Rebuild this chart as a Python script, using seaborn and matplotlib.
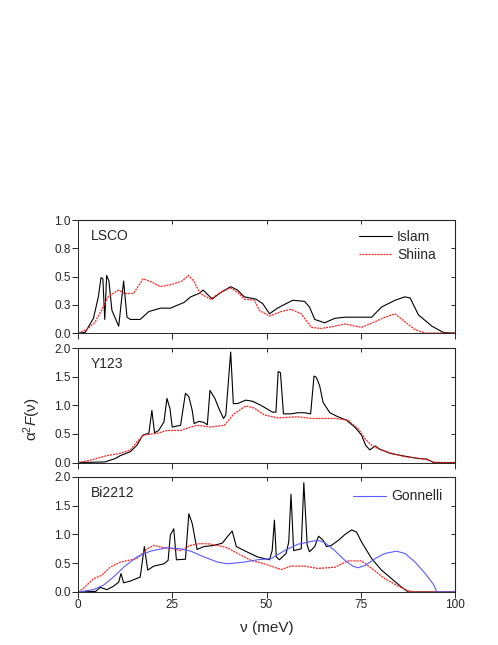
import matplotlib
matplotlib.use("Agg")
import matplotlib.pyplot as plt
import seaborn as sns

# LSCO
lsco_islam_x = [0, 0.5, 1.9, 4.1, 5.4, 6.1, 6.6, 7.1, 7.6, 8.2, 9.0, 9.9, 10.8, 12.1, 13.0, 13.9,
                16.5, 18.8, 21.9, 24.5, 28.1, 29.9, 32.1, 33.2, 35.6, 37.9, 40.5, 42.3, 44.1,
                47.2, 49.0, 50.8, 52.9, 55.2, 57.0, 60.1, 61.4, 62.8, 65.4, 68.1, 70.8, 77.9,
                80.5, 84.1, 86.7, 88.1, 90.3, 93.9, 96.9, 99.2, 100]
lsco_islam_y = [0, 0, 0.005, 0.13, 0.32, 0.49, 0.48, 0.12, 0.51, 0.46, 0.2, 0.13, 0.06, 0.46, 0.14,
                0.12, 0.12, 0.19, 0.22, 0.22, 0.27, 0.32, 0.35, 0.38, 0.30, 0.36, 0.41, 0.38, 0.32,
                0.30, 0.26, 0.17, 0.22, 0.26, 0.29, 0.28, 0.23, 0.12, 0.09, 0.13, 0.14, 0.14,
                0.23, 0.29, 0.32, 0.31, 0.16, 0.06, 0.005, 0, 0]
lsco_shiina_x = [0, 2.3, 4.4, 6.2, 8.0, 10.7, 12.4, 14.7, 17.3, 19.6, 21.8, 24.9, 27.6, 29.3, 30.7,
                 32.4, 35.1, 37.9, 40.4, 42.3, 44.1, 46.8, 48.1, 50.8, 53.9, 56.5, 59.2, 61.9,
                 64.5, 68.1, 70.8, 75.2, 78.8, 81.4, 84.1, 86.7, 89.4, 92.0, 100]
lsco_shiina_y = [0, 0.03, 0.09, 0.2, 0.32, 0.38, 0.35, 0.35, 0.48, 0.45, 0.41, 0.43, 0.46, 0.51, 0.46,
                 0.35, 0.30, 0.36, 0.40, 0.36, 0.30, 0.29, 0.20, 0.15, 0.19, 0.21, 0.17, 0.05,
                 0.04, 0.06, 0.08, 0.05, 0.10, 0.14, 0.17, 0.10, 0.03, 0, 0]

# Y123
y123_islam_x = [0, 7.1, 9.9, 11.2, 13.9, 15.6, 17.2, 18.8, 19.6, 20.3, 21.4, 22.8, 23.6, 24.4, 25.0,
                27.2, 28.5, 29.4, 30.3, 30.8, 32.1, 33.4, 34.3, 35.0, 36.3, 37.4, 38.6, 39.2,
                40.5, 41.2, 42.3, 44.5, 46.3, 48.5, 51.6, 52.5, 53.1, 53.7, 54.5, 56.5, 58.3,
                60.1, 61.7, 62.6, 63.2, 64.1, 65.0, 66.8, 68.9, 71.2, 73.4, 75.2, 76.3, 77.4,
                78.8, 80.1, 82.8, 85.9, 90.3, 92.5, 94.3, 100]
y123_islam_y = [0, 0.01, 0.07, 0.12, 0.19, 0.30, 0.48, 0.51, 0.91, 0.52, 0.56, 0.71, 1.12, 0.94, 0.62,
                0.65, 1.21, 1.15, 0.91, 0.68, 0.72, 0.70, 0.66, 1.26, 1.12, 0.94, 0.77, 0.83,
                1.93, 1.03, 1.03, 1.09, 1.07, 1.0, 0.88, 0.88, 1.59, 1.57, 0.85, 0.85, 0.87,
                0.87, 0.85, 1.51, 1.49, 1.34, 1.05, 0.87, 0.80, 0.74, 0.62, 0.48, 0.30, 0.22,
                0.29, 0.23, 0.16, 0.12, 0.07, 0.06, 0, 0]
y123_shiina_x = [0, 3.2, 7.6, 11.2, 13.9, 15.6, 17.4, 21.0, 23.6, 27.2, 29.9, 31.6, 35.2, 38.8, 41.4,
                 44.5, 46.8, 49.4, 53.0, 58.3, 61.9, 68.1, 71.6, 74.3, 76.1, 77.9, 80.1, 83.2,
                 86.8, 92.1, 94.8, 100]
y123_shiina_y = [0, 0.04, 0.12, 0.16, 0.22, 0.36, 0.48, 0.51, 0.56, 0.56, 0.62, 0.65, 0.62, 0.65, 0.85,
                 0.99, 0.95, 0.83, 0.78, 0.80, 0.77, 0.77, 0.74, 0.59, 0.42, 0.30, 0.23, 0.16,
                 0.10, 0.06, 0, 0]

# Bi2212
bi_islam_x = [0, 4.7, 5.9, 7.7, 9.4, 10.8, 11.4, 12.1, 13.9, 16.5, 17.6, 18.5, 20.1, 22.8, 23.9, 24.5,
              25.4, 26.1, 28.5, 29.4, 30.3, 31.2, 31.6, 33.4, 36.1, 38.3, 39.6, 40.9, 42.0, 44.1,
              47.6, 50.8, 51.5, 52.1, 52.6, 53.4, 55.2, 55.9, 56.5, 57.2, 59.2, 59.9, 60.8, 61.4,
              62.8, 63.8, 65.0, 65.9, 67.2, 69.1, 70.8, 72.6, 73.9, 75.2, 77.9, 80.5, 83.2, 85.9,
              87.6, 100]
bi_islam_y = [0, 0.01, 0.08, 0.04, 0.10, 0.17, 0.32, 0.16, 0.19, 0.26, 0.79, 0.38, 0.45, 0.49, 0.55, 0.99,
              1.10, 0.56, 0.57, 1.36, 1.19, 0.87, 0.74, 0.79, 0.81, 0.85, 0.96, 1.06, 0.79, 0.72,
              0.61, 0.56, 0.72, 1.25, 0.61, 0.56, 0.67, 0.87, 1.70, 0.72, 0.75, 1.90, 0.81, 0.70,
              0.79, 0.97, 0.90, 0.79, 0.81, 0.90, 1.0, 1.08, 1.04, 0.87, 0.58, 0.38, 0.23, 0.08,
              0, 0]
bi_shiina_x = [0, 1.4, 4.1, 6.3, 8.5, 11.2, 15.6, 18.3, 20.1, 22.8, 25.4, 27.2, 29.9, 32.1, 34.3, 37.0,
               39.6, 42.3, 45.9, 49.4, 52.1, 53.9, 56.5, 60.1, 63.6, 68.1, 71.6, 75.2, 77.9, 81.4,
               85.0, 87.6, 89.4, 100]
bi_shiina_y = [0, 0.06, 0.23, 0.29, 0.43, 0.52, 0.58, 0.75, 0.81, 0.77, 0.75, 0.72, 0.81, 0.84, 0.84, 0.81,
               0.77, 0.67, 0.55, 0.49, 0.43, 0.39, 0.45, 0.45, 0.41, 0.43, 0.54, 0.54, 0.41, 0.23,
               0.10, 0.02, 0, 0]
bi_gonnelli_x = [0, 4.1, 6.8, 9.4, 12.1, 15.6, 19.2, 23.6, 27.2, 29.9, 33.4, 37.0, 39.6, 44.1, 47.6,
                 51.2, 54.8, 58.3, 61.9, 63.6, 65.4, 68.1, 70.8, 72.9, 74.3, 76.1, 78.8, 81.4, 84.5,
                 86.7, 89.4, 92.1, 94.3, 95.2, 100]
bi_gonnelli_y = [0, 0.04, 0.12, 0.26, 0.43, 0.61, 0.71, 0.77, 0.75, 0.71, 0.61, 0.52, 0.49, 0.52, 0.56,
                 0.58, 0.72, 0.83, 0.88, 0.90, 0.86, 0.72, 0.55, 0.45, 0.42, 0.46, 0.58, 0.67, 0.71,
                 0.67, 0.52, 0.32, 0.13, 0, 0]

sns.set_style("ticks")
plt.rcParams["font.family"] = ["Liberation Sans", "DejaVu Sans"]
plt.rcParams["mathtext.fontset"] = "custom"
plt.rcParams["mathtext.rm"] = "Liberation Sans"
plt.rcParams["mathtext.it"] = "Liberation Sans:italic"

black = "#000000"
red = "#ff2020"
blue = "#5a5aff"

fig = plt.figure(figsize=(4.98, 6.45), dpi=100)
ax1 = fig.add_axes([0.1566, 0.4837, 0.7571, 0.1752])
ax2 = fig.add_axes([0.1566, 0.2829, 0.7571, 0.1775])
ax3 = fig.add_axes([0.1566, 0.0822, 0.7571, 0.1783])


def draw(ax, x, y, color, label=None, dotted=False, lw=0.8):
    ls = (0, (1.6, 0.8)) if dotted else "-"
    sns.lineplot(x=x, y=y, ax=ax, color=color, lw=lw, linestyle=ls,
                 label=label, sort=False, estimator=None, legend=False)


draw(ax1, lsco_islam_x, lsco_islam_y, black, "Islam")
draw(ax1, lsco_shiina_x, lsco_shiina_y, red, "Shiina", dotted=True, lw=0.9)
draw(ax2, y123_islam_x, y123_islam_y, black)
draw(ax2, y123_shiina_x, y123_shiina_y, red, dotted=True, lw=0.9)
draw(ax3, bi_islam_x, bi_islam_y, black)
draw(ax3, bi_shiina_x, bi_shiina_y, red, dotted=True, lw=0.9)
draw(ax3, bi_gonnelli_x, bi_gonnelli_y, blue, "Gonnelli", lw=0.8)

for ax, name, ymax, yt, ytl in [
    (ax1, "LSCO", 1.0, [0, 0.25, 0.5, 0.75, 1.0], ["0.0", "0.3", "0.5", "0.8", "1.0"]),
    (ax2, "Y123", 2.0, [0, 0.5, 1.0, 1.5, 2.0], ["0.0", "0.5", "1.0", "1.5", "2.0"]),
    (ax3, "Bi2212", 2.0, [0, 0.5, 1.0, 1.5, 2.0], ["0.0", "0.5", "1.0", "1.5", "2.0"]),
]:
    ax.set_xlim(0, 100)
    ax.set_ylim(0, ymax)
    ax.set_yticks(yt)
    ax.set_yticklabels(ytl)
    ax.set_xticks([0, 25, 50, 75, 100])
    ax.tick_params(axis="both", which="both", direction="out", length=4, width=0.7,
                   labelsize=8.5, pad=1, top=False, right=False)
    sec_x = ax.secondary_xaxis("top")
    sec_x.set_xticks([25, 50, 75])
    sec_x.tick_params(direction="in", length=3, width=0.7, labeltop=False)
    sec_y = ax.secondary_yaxis("right")
    sec_y.set_yticks(yt[1:-1])
    sec_y.tick_params(direction="in", length=3, width=0.7, labelright=False)
    for s in ax.spines.values():
        s.set_linewidth(0.7)
    ax.set_xlabel("")
    ax.set_ylabel("")
    ax.text(0.033, 0.86, name, transform=ax.transAxes, fontsize=10, va="center", ha="left")

ax1.tick_params(labelbottom=False)
ax2.tick_params(labelbottom=False)

ax1.legend(loc="upper left", frameon=False, fontsize=10, handlelength=2.4,
           handletextpad=0.35, labelspacing=0.3, borderaxespad=0.0,
           bbox_to_anchor=(0.73, 0.965))
ax3.legend(loc="upper left", frameon=False, fontsize=10, handlelength=2.4,
           handletextpad=0.35, borderaxespad=0.0, bbox_to_anchor=(0.715, 0.94))

fig.text(0.064, 0.35, r"$\mathrm{\alpha}^{2}$$\mathit{F}$(ν)", rotation=90,
         fontsize=11, ha="center", va="center")
ax3.set_xlabel("ν (meV)", fontsize=11, labelpad=7)

fig.savefig("out.png", dpi=100)
